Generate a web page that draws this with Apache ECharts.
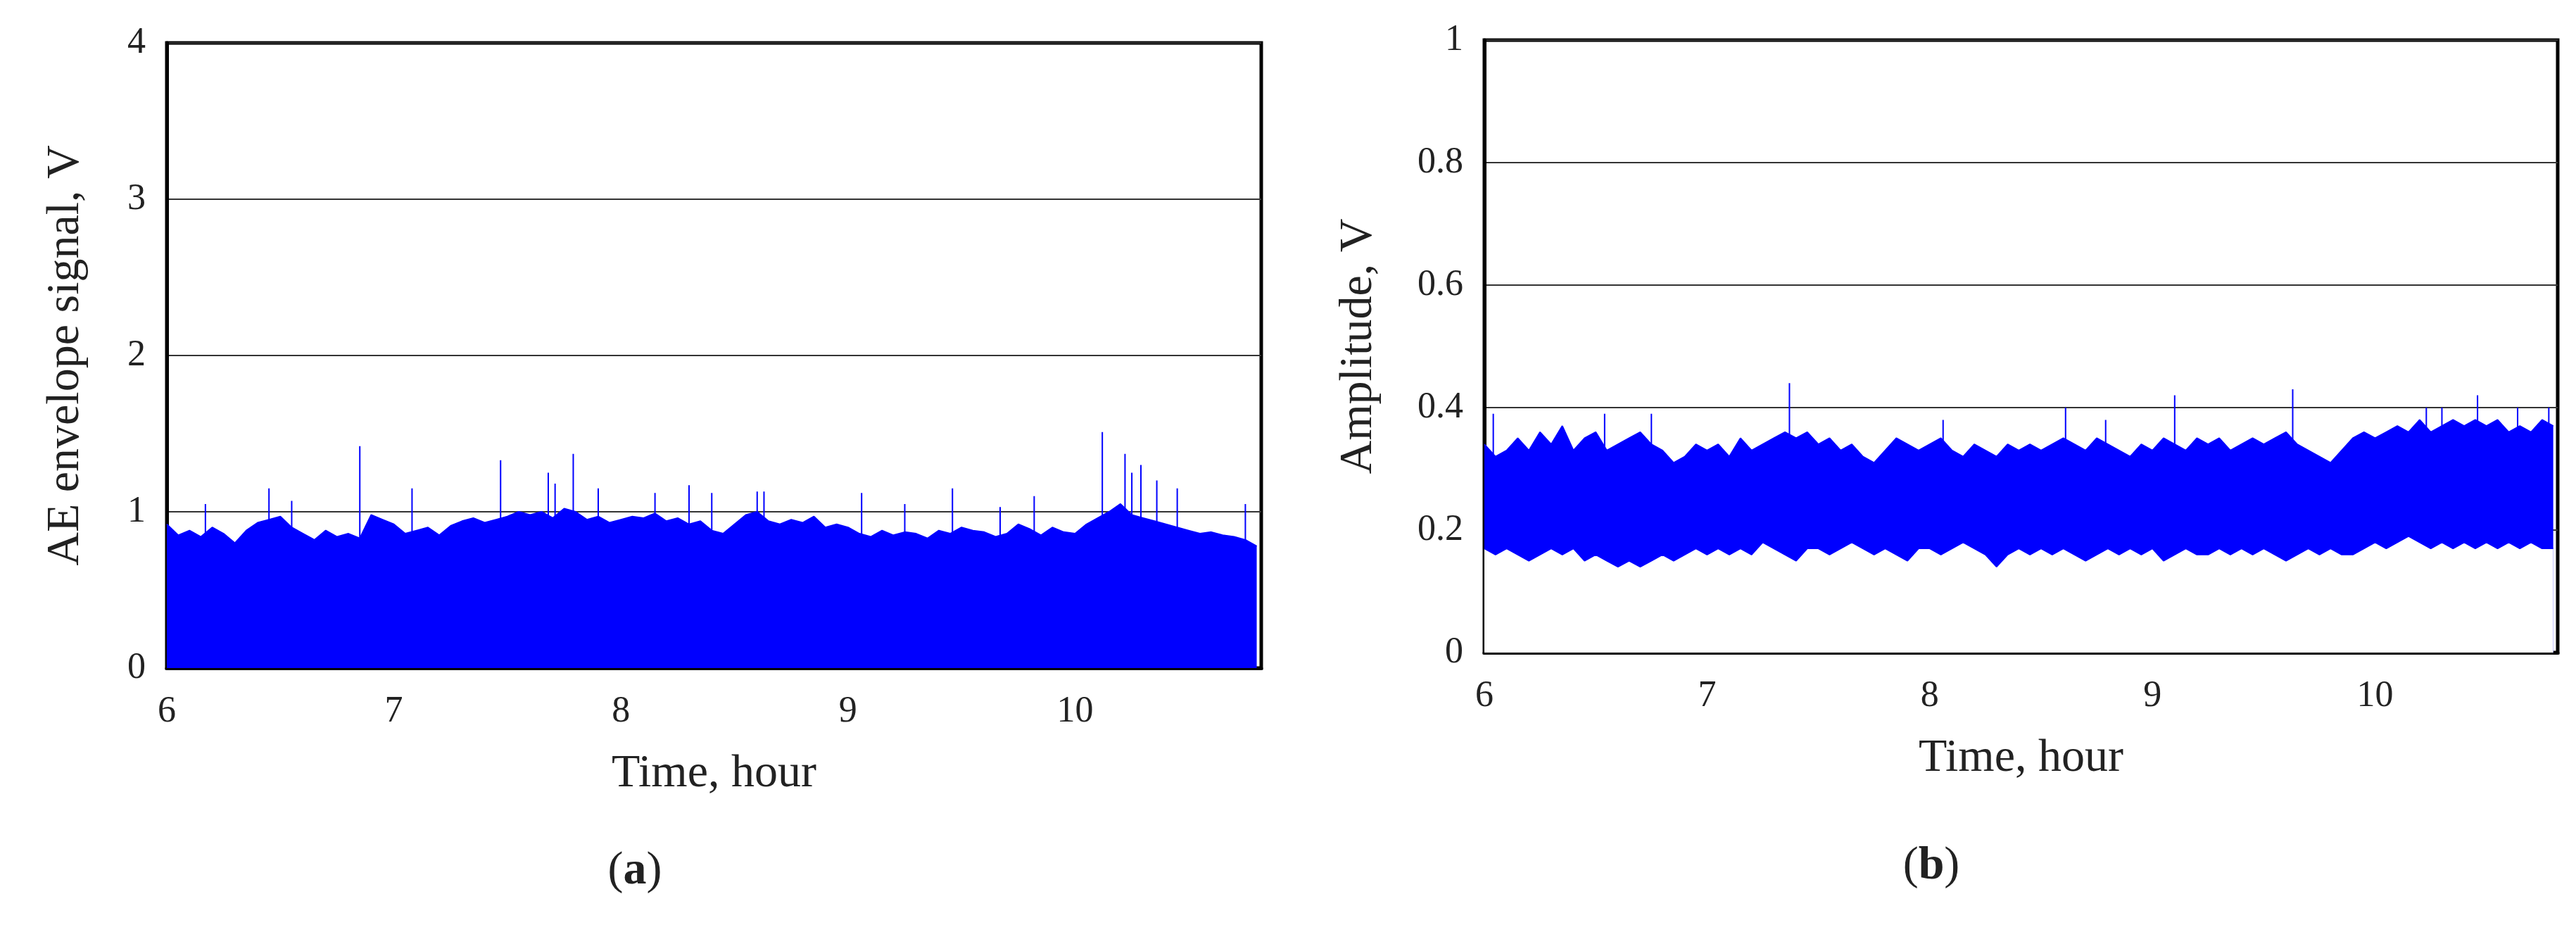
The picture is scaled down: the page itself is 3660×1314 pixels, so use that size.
<!DOCTYPE html>
<html lang="en">
<head>
<meta charset="UTF-8">
<title>AE signal</title>
<style>
    * { margin: 0; padding: 0; }
    #chart { width: 3660px; height: 1314px; background: #fff; }
</style>
<script src="https://cdn.jsdelivr.net/npm/echarts@6/dist/echarts.min.js"></script>
</head>
<body>
<div id="chart"></div>
<script>
// time grid for envelopes: 6.00 .. 10.80 step 0.05 h
var hours = [];
for (var i = 0; i <= 96; i++) hours.push(+(6 + i * 0.05).toFixed(2));

// (a) AE envelope upper envelope, V
var aUpper = [
    0.92,0.85,0.88,0.84,0.90,0.86,0.80,0.88,0.93,0.95,
    0.97,0.90,0.86,0.82,0.88,0.84,0.86,0.83,0.98,0.95,
    0.92,0.86,0.88,0.90,0.85,0.91,0.94,0.96,0.93,0.95,
    0.97,1.00,0.98,1.00,0.96,1.02,1.00,0.95,0.97,0.93,
    0.95,0.97,0.96,0.99,0.94,0.96,0.92,0.94,0.88,0.86,
    0.92,0.98,1.00,0.94,0.92,0.95,0.93,0.97,0.90,0.92,
    0.90,0.86,0.84,0.88,0.85,0.87,0.86,0.83,0.88,0.86,
    0.90,0.88,0.87,0.84,0.86,0.92,0.89,0.85,0.90,0.87,
    0.86,0.92,0.96,1.00,1.05,0.98,0.96,0.94,0.92,0.90,
    0.88,0.86,0.87,0.85,0.84,0.82,0.78
];
// (a) isolated spikes [hour, V]
var aSpikes = [
    [6.17,1.05],[6.45,1.15],[6.55,1.07],[6.85,1.42],[7.08,1.15],[7.47,1.33],
    [7.68,1.25],[7.71,1.18],[7.79,1.37],[7.90,1.15],[8.15,1.12],[8.30,1.17],
    [8.40,1.12],[8.60,1.13],[8.63,1.13],[9.06,1.12],[9.25,1.05],[9.46,1.15],
    [9.67,1.03],[9.82,1.10],[10.12,1.51],[10.22,1.37],[10.25,1.25],[10.29,1.30],
    [10.36,1.20],[10.45,1.15],[10.75,1.05]
];

// (b) amplitude band, V
var bUpper = [
    0.34,0.32,0.33,0.35,0.33,0.36,0.34,0.37,0.33,0.35,
    0.36,0.33,0.34,0.35,0.36,0.34,0.33,0.31,0.32,0.34,
    0.33,0.34,0.32,0.35,0.33,0.34,0.35,0.36,0.35,0.36,
    0.34,0.35,0.33,0.34,0.32,0.31,0.33,0.35,0.34,0.33,
    0.34,0.35,0.33,0.32,0.34,0.33,0.32,0.34,0.33,0.34,
    0.33,0.34,0.35,0.34,0.33,0.35,0.34,0.33,0.32,0.34,
    0.33,0.35,0.34,0.33,0.35,0.34,0.35,0.33,0.34,0.35,
    0.34,0.35,0.36,0.34,0.33,0.32,0.31,0.33,0.35,0.36,
    0.35,0.36,0.37,0.36,0.38,0.36,0.37,0.38,0.37,0.38,
    0.37,0.38,0.36,0.37,0.36,0.38,0.37
];
var bLower = [
    0.17,0.16,0.17,0.16,0.15,0.16,0.17,0.16,0.17,0.15,
    0.16,0.15,0.14,0.15,0.14,0.15,0.16,0.15,0.16,0.17,
    0.16,0.17,0.16,0.17,0.16,0.18,0.17,0.16,0.15,0.17,
    0.17,0.16,0.17,0.18,0.17,0.16,0.17,0.16,0.15,0.17,
    0.17,0.16,0.17,0.18,0.17,0.16,0.14,0.16,0.17,0.16,
    0.17,0.16,0.17,0.16,0.15,0.16,0.17,0.16,0.17,0.16,
    0.17,0.15,0.16,0.17,0.16,0.16,0.17,0.16,0.17,0.16,
    0.17,0.16,0.15,0.16,0.17,0.16,0.17,0.16,0.16,0.17,
    0.18,0.17,0.18,0.19,0.18,0.17,0.18,0.17,0.18,0.17,
    0.18,0.17,0.18,0.17,0.18,0.17,0.17
];
var bSpikes = [
    [6.04,0.39],[6.54,0.39],[6.75,0.39],[7.37,0.44],[8.06,0.38],[8.61,0.40],
    [8.79,0.38],[9.10,0.42],[9.63,0.43],[10.23,0.40],[10.30,0.40],[10.46,0.42],
    [10.64,0.40],[10.78,0.40]
];

var xTicks = [6, 7, 8, 9, 10];
var blue = '#0000ff';
var font = '"Liberation Serif", "DejaVu Serif", serif';

function pairs(xs, ys) {
    return xs.map(function (x, i) { return [x, ys[i]]; });
}
// each spike drawn as a separate vertical stroke rising from the band
function spikeLine(sp, base) {
    var out = [];
    sp.forEach(function (s) {
        out.push([s[0], base], [s[0], s[1]], [s[0], '-']);
    });
    return out;
}

function xAxis(idx) {
    return {
        gridIndex: idx, type: 'value', min: 6, max: 10.82, interval: 1,
        name: 'Time, hour', nameLocation: 'middle', nameGap: 118,
        nameTextStyle: { fontFamily: font, fontSize: 66, color: '#222' },
        axisLine: { lineStyle: { color: '#000', width: 5 } },
        axisTick: { show: false },
        splitLine: { show: false },
        axisLabel: {
            fontFamily: font, fontSize: 52, color: '#222', margin: 36,
            showMaxLabel: false,
            formatter: function (v) { return xTicks.indexOf(v) >= 0 ? v : ''; }
        }
    };
}
function yAxis(idx, max, step, name, gap) {
    return {
        gridIndex: idx, type: 'value', min: 0, max: max, interval: step,
        name: name, nameLocation: 'middle', nameGap: gap,
        nameTextStyle: { fontFamily: font, fontSize: 66, color: '#222' },
        axisLine: { show: true, lineStyle: { color: '#000', width: 5 } },
        axisTick: { show: false },
        splitLine: { show: true, lineStyle: { color: '#333', width: 2 } },
        axisLabel: { fontFamily: font, fontSize: 52, color: '#222', margin: 30 }
    };
}

function panelTitle(letter, x, y) {
    return {
        text: '{p|(}{b|' + letter + '}{p|)}', left: x, top: y, textAlign: 'center',
        textStyle: { rich: {
            p: { fontFamily: font, fontSize: 66, fontWeight: 'normal', color: '#222' },
            b: { fontFamily: font, fontSize: 66, fontWeight: 'bold', color: '#222' }
        } }
    };
}

var chart = echarts.init(document.getElementById('chart'));
chart.setOption({
    animation: false,
    title: [panelTitle('a', 897, 1200), panelTitle('b', 2739, 1193)],
    grid: [
        { left: 237, right: 1868, top: 61, bottom: 365, show: true, borderColor: '#000', borderWidth: 5 },
        { left: 2109, right: 26, top: 57, bottom: 387, show: true, borderColor: '#000', borderWidth: 5 }
    ],
    xAxis: [xAxis(0), xAxis(1)],
    yAxis: [
        yAxis(0, 4, 1, 'AE envelope signal, V', 110),
        yAxis(1, 1, 0.2, 'Amplitude, V', 145)
    ],
    series: [
        { type: 'line', xAxisIndex: 0, yAxisIndex: 0, symbol: 'none', z: 3,
          data: pairs(hours, aUpper), lineStyle: { color: blue, width: 2 },
          areaStyle: { color: blue, opacity: 1 } },
        { type: 'line', xAxisIndex: 0, yAxisIndex: 0, symbol: 'none', z: 3,
          data: spikeLine(aSpikes, 0.8), lineStyle: { color: blue, width: 2 } },
        { type: 'line', xAxisIndex: 1, yAxisIndex: 1, symbol: 'none', z: 3,
          data: pairs(hours, bUpper), lineStyle: { color: blue, width: 2 },
          areaStyle: { color: blue, opacity: 1 } },
        { type: 'line', xAxisIndex: 1, yAxisIndex: 1, symbol: 'none', z: 4,
          data: pairs(hours, bLower), lineStyle: { color: blue, width: 2 },
          areaStyle: { color: '#fff', opacity: 1 } },
        { type: 'line', xAxisIndex: 1, yAxisIndex: 1, symbol: 'none', z: 3,
          data: spikeLine(bSpikes, 0.3), lineStyle: { color: blue, width: 2 } }
    ]
});
</script>
</body>
</html>
